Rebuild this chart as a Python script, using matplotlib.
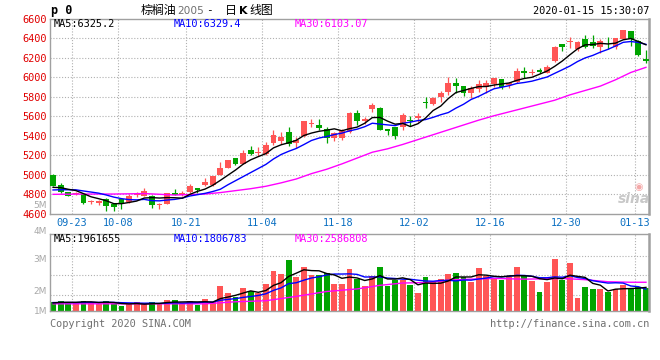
import matplotlib
matplotlib.use("Agg")
import matplotlib.pyplot as plt
import pandas as pd

W, H = 660, 360

RED = "#ff5555"
GREEN = "#00a400"
GRID = "#b0b0b0"
FRAME = "#a0a0a0"
MONO = "DejaVu Sans Mono"

# ---- data (daily K, palm oil 2005) ----
tick_idx = [2, 8, 17, 27, 37, 47, 57, 67, 76]
tick_labels = ["09-23", "10-08", "10-21", "11-04", "11-18", "12-02", "12-16", "12-30", "01-13"]

opens = [5000, 4893, 4818, 4797, 4800, 4718, 4712, 4745, 4698, 4745,
         4715, 4795, 4785, 4785, 4685, 4700, 4810, 4790, 4822, 4862,
         4892, 4892, 5000, 5070, 5168, 5110, 5250, 5225, 5210, 5330,
         5350, 5435, 5322, 5395, 5525, 5515, 5466, 5373, 5373, 5441,
         5637, 5550, 5677, 5688, 5469, 5487, 5493, 5556, 5583, 5742,
         5727, 5802, 5852, 5945, 5911, 5836, 5878, 5897, 5932, 5983,
         5921, 5950, 6068, 6045, 6075, 6048, 6171, 6343, 6365, 6290,
         6395, 6360, 6309, 6342, 6315, 6395, 6477, 6377, 6190]
highs = [5010, 4910, 4822, 4825, 4805, 4740, 4735, 4755, 4702, 4752,
         4805, 4822, 4858, 4790, 4712, 4812, 4855, 4835, 4900, 4865,
         4970, 4990, 5132, 5155, 5172, 5252, 5297, 5288, 5338, 5458,
         5440, 5492, 5388, 5552, 5572, 5568, 5492, 5440, 5470, 5647,
         5665, 5595, 5740, 5698, 5472, 5490, 5637, 5603, 5630, 5800,
         5800, 5862, 6007, 5990, 5915, 5911, 5973, 5973, 5995, 5988,
         5950, 6093, 6110, 6083, 6093, 6130, 6322, 6345, 6412, 6378,
         6435, 6435, 6391, 6412, 6405, 6490, 6480, 6385, 6281]
lows = [4880, 4810, 4775, 4790, 4695, 4698, 4688, 4628, 4622, 4648,
        4708, 4770, 4780, 4660, 4650, 4695, 4788, 4780, 4815, 4815,
        4885, 4885, 4995, 5065, 5100, 5105, 5205, 5195, 5205, 5305,
        5318, 5290, 5270, 5385, 5485, 5458, 5322, 5350, 5360, 5430,
        5510, 5520, 5640, 5455, 5408, 5363, 5460, 5500, 5545, 5682,
        5720, 5750, 5818, 5836, 5811, 5785, 5852, 5842, 5900, 5877,
        5887, 5945, 5990, 6024, 6048, 6040, 6160, 6274, 6300, 6270,
        6300, 6300, 6253, 6288, 6288, 6390, 6322, 6220, 6150]
closes = [4886, 4825, 4785, 4815, 4712, 4722, 4728, 4680, 4663, 4712,
          4785, 4800, 4835, 4685, 4690, 4808, 4792, 4812, 4882, 4845,
          4925, 4985, 5065, 5148, 5110, 5225, 5212, 5230, 5302, 5405,
          5383, 5318, 5355, 5550, 5530, 5475, 5373, 5425, 5451, 5637,
          5555, 5572, 5716, 5460, 5447, 5398, 5613, 5552, 5606, 5738,
          5785, 5842, 5939, 5915, 5843, 5894, 5932, 5945, 5990, 5898,
          5945, 6068, 6042, 6050, 6057, 6110, 6309, 6316, 6370, 6360,
          6316, 6326, 6377, 6338, 6402, 6487, 6392, 6225, 6168]
# volume in millions of lots
volumes = [1.34, 1.39, 1.34, 1.32, 1.39, 1.34, 1.27, 1.39, 1.27, 1.19,
           1.26, 1.34, 1.27, 1.35, 1.26, 1.43, 1.43, 1.29, 1.39, 1.23,
           1.47, 1.35, 1.97, 1.70, 1.56, 1.91, 1.78, 1.69, 2.05, 2.56,
           2.44, 3.00, 2.32, 2.71, 2.40, 2.40, 2.47, 2.05, 2.05, 2.64,
           2.23, 1.97, 2.36, 2.71, 1.97, 2.21, 2.21, 2.01, 1.70, 2.32,
           2.14, 2.25, 2.44, 2.48, 2.32, 2.14, 2.68, 2.36, 2.27, 2.21,
           2.32, 2.71, 2.36, 2.17, 1.74, 2.13, 3.03, 2.21, 2.87, 1.51,
           1.93, 1.86, 1.86, 1.74, 1.86, 2.01, 1.90, 1.93, 1.90]

# sessions before the first visible candle (estimated from where the MAs start)
prior_closes = [4800, 4790, 4820, 4830, 4835, 4840, 4870, 4880, 4869]
prior_volumes = [1.35, 1.36, 1.33, 1.34, 1.32, 1.30, 1.31, 1.33, 1.30]

# MA30 lines
ma30_idx = [0, 4, 8, 12, 16, 20, 22, 24, 26, 28, 30, 32, 34, 36, 38, 40, 42, 44,
            46, 48, 50, 52, 54, 56, 58, 60, 62, 64, 66, 68, 70, 72, 74, 76, 78]
ma30_val = [4797, 4800, 4800, 4805, 4790, 4800, 4815, 4835, 4855, 4880, 4915, 4955,
            5010, 5055, 5110, 5170, 5230, 5265, 5310, 5360, 5410, 5460, 5510, 5560,
            5605, 5645, 5685, 5725, 5765, 5820, 5865, 5910, 5975, 6050, 6103]
vma30_idx = [0, 10, 20, 24, 28, 32, 36, 40, 43, 46, 49, 53, 58, 62, 67, 70, 73, 76, 78]
vma30_val = [1.28, 1.28, 1.28, 1.36, 1.40, 1.57, 1.76, 1.86, 2.00, 2.09, 2.11, 2.22,
             2.27, 2.24, 2.27, 2.22, 2.14, 2.12, 2.12]

ma_text = ["MA5:6325.2", "MA10:6329.4", "MA30:6103.07"]
vma_text = ["MA5:1961655", "MA10:1806783", "MA30:2586808"]

n = len(closes)
x = list(range(n))
up = [c >= o for o, c in zip(opens, closes)]
cols = [RED if u else GREEN for u in up]


def rolling(prior, vals, k):
    s = pd.Series(prior + vals).rolling(k).mean()
    return s.iloc[len(prior):].tolist()


ma5 = rolling(prior_closes, closes, 5)
ma10 = rolling(prior_closes, closes, 10)
vma5 = rolling(prior_volumes, volumes, 5)
vma10 = rolling(prior_volumes, volumes, 10)


def fx(px):
    return px / W


def fy(py):
    return 1 - py / H


fig = plt.figure(figsize=(W / 100, H / 100), dpi=100)
fig.patch.set_facecolor("white")

ax = fig.add_axes([fx(50), fy(213.5), fx(599), 194.5 / H])
axv = fig.add_axes([fx(50), fy(311), fx(599), 77 / H])

xlim = (-0.4, n - 0.6)
grid_x = [i + 0.5 for i in tick_idx]
dots = (0, (1, 1.6))

# ---- price panel ----
ax.set_xlim(*xlim)
ax.set_ylim(4600, 6600)
for yv in range(4800, 6600, 200):
    ax.axhline(yv, color=GRID, lw=0.8, ls=dots, zorder=0)
for gx in grid_x:
    ax.axvline(gx, color=GRID, lw=0.8, ls=dots, zorder=0)

ax.vlines(x, lows, highs, colors=cols, lw=0.9, zorder=2)
bodies = [max(abs(c - o), 9) for o, c in zip(opens, closes)]
bottoms = [min(o, c) for o, c in zip(opens, closes)]
ax.bar(x, bodies, bottom=bottoms, width=0.76, color=cols, lw=0, zorder=3)

ax.plot(ma30_idx, ma30_val, color="#ff00ff", lw=1.0, zorder=4)
ax.plot(x, ma10, color="#0000ff", lw=1.0, zorder=4)
ax.plot(x, ma5, color="black", lw=1.0, zorder=5)

ax.set_yticks(range(4600, 6601, 200))
ax.set_yticklabels([str(v) for v in range(4600, 6601, 200)], color="#e00000",
                   fontfamily=MONO, fontsize=7.4)
ax.set_xticks(grid_x)
ax.set_xticklabels(tick_labels, color="#0a6fc2", fontfamily=MONO, fontsize=7.4)
ax.tick_params(axis="both", length=0)
ax.tick_params(axis="y", pad=2.5)
ax.tick_params(axis="x", pad=3)

# ---- volume panel ----
axv.set_xlim(*xlim)
axv.set_ylim(1, 4)
for frac in [0.208, 0.468, 0.718]:
    axv.axhline(1 + 3 * frac, color=GRID, lw=0.8, ls=dots, zorder=0)
for gx in grid_x:
    axv.axvline(gx, color=GRID, lw=0.8, ls=dots, zorder=0)
axv.bar(x, volumes, width=0.76, color=cols, lw=0, zorder=2)
axv.plot(vma30_idx, vma30_val, color="#ff00ff", lw=1.0, zorder=4)
axv.plot(x, vma10, color="#0000ff", lw=1.0, zorder=4)
axv.plot(x, vma5, color="black", lw=1.0, zorder=5)
axv.set_xticks([])
axv.set_yticks([])

for a in (ax, axv):
    for side, sp in a.spines.items():
        sp.set_color(FRAME)
        sp.set_linewidth(1.0)
    a.spines["right"].set_linewidth(1.8)

# ---- texts ----
for txt, px, c in zip(ma_text, [54, 174, 295], ["black", "#0000ff", "#ff00ff"]):
    fig.text(fx(px), fy(24), txt, color=c, fontfamily=MONO, fontsize=7.4, va="center")
for txt, px, c in zip(vma_text, [54, 174, 295], ["black", "#0000ff", "#ff00ff"]):
    fig.text(fx(px), fy(239.5), txt, color=c, fontfamily=MONO, fontsize=7.4, va="center")

for lab, py in [("5M", 205.5), ("4M", 231), ("3M", 260), ("2M", 291), ("1M", 311)]:
    fig.text(fx(47), fy(py), lab, color="#a8a8a8", fontsize=6.5, ha="right", va="center",
             fontfamily="DejaVu Sans")

fig.text(fx(51), fy(10.5), "p 0", fontfamily=MONO, fontweight="bold", fontsize=8.5,
         va="center", color="black")
cjk = ["Noto Sans CJK SC", "DejaVu Sans"]
fig.text(fx(141), fy(10.5), "棕榈油", family=cjk, fontsize=8.6, va="center", color="black")
fig.text(fx(177), fy(10.5), "2005", family="DejaVu Sans", fontsize=7.6, va="center", color="#707070")
fig.text(fx(206), fy(10.5), "-", family=MONO, fontsize=8, va="center", color="black")
fig.text(fx(225), fy(10.5), "日", family=cjk, fontsize=8.6, va="center", color="black")
fig.text(fx(239), fy(10.5), "K", family="DejaVu Sans", fontweight="bold", fontsize=8, va="center", color="black")
fig.text(fx(249), fy(10.5), "线图", family=cjk, fontsize=8.6, va="center", color="black")
fig.text(fx(649), fy(10.5), "2020-01-15 15:30:07", fontfamily=MONO, fontsize=7.4,
         ha="right", va="center", color="black")

fig.text(fx(50), fy(324), "Copyright 2020 SINA.COM", fontfamily=MONO, fontsize=7.4,
         va="center", color="#707070")
fig.text(fx(649), fy(324), "http://finance.sina.com.cn", fontfamily=MONO, fontsize=7.4,
         ha="right", va="center", color="#707070")

# sina watermark
fig.text(fx(634), fy(199), "sina", fontsize=10, fontweight="bold", style="italic",
         color="#c8c8c8", ha="center", va="center", family="DejaVu Sans")
fig.text(fx(639), fy(187), "\u25c9", fontsize=7, color="#f4a8a8", ha="center", va="center",
         family="DejaVu Sans")

fig.savefig("out.png", dpi=100)
